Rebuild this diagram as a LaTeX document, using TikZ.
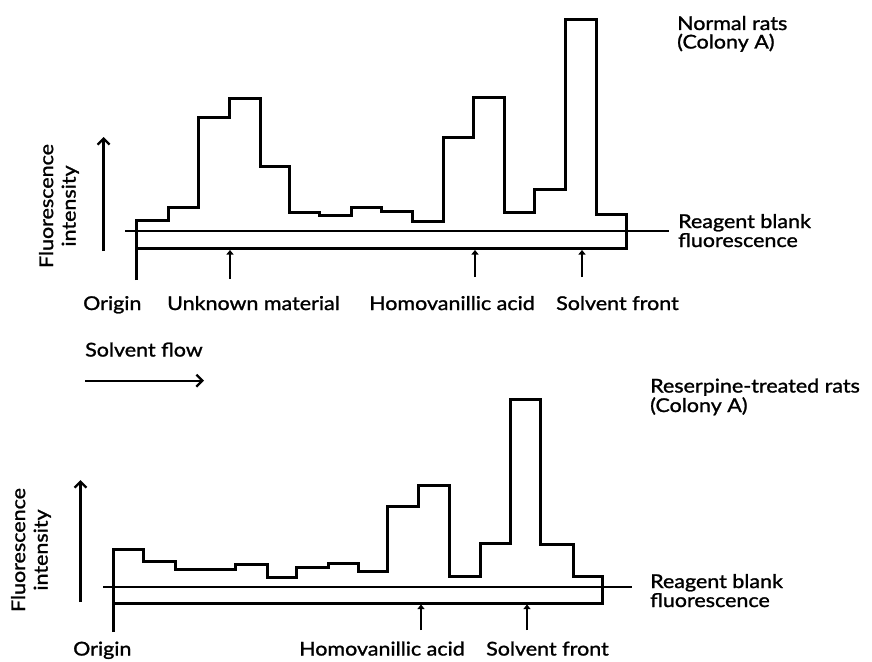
\documentclass[tikz,border=0pt]{standalone}
\usepackage{fontspec}
\setmainfont{Lato}[FakeStretch=1.13,UprightFeatures={FakeBold=1.3}]
\usetikzlibrary{arrows.meta}
\begin{document}
\begin{tikzpicture}[x=1pt,y=-1pt,
  profile/.style={line width=3pt, line join=miter},
  blank/.style={line width=2.4pt},
  tickmark/.style={line width=2.2pt, -{Triangle[length=4.5pt,width=7pt]}},
  axisarrow/.style={line width=2.3pt, -{Straight Barb[length=6pt,width=12pt,line width=2.3pt]}},
  lbl/.style={font=\fontsize{19}{22.5}\selectfont, inner sep=0pt, anchor=base west},
  ylbl/.style={font=\fontsize{19}{22.5}\selectfont, inner sep=0pt, rotate=90, align=center},
]
\useasboundingbox (0,0) rectangle (872,661);

% ---------- top panel ----------
\draw[profile] (136,280) -- (136,220) -| (168,207) -| (198,117) -| (229,98)
  -| (260,166) -| (289,212) -| (319,215) -| (351,207) -| (381,211) -| (412,221)
  -| (443,137) -| (473,97) -| (504,212) -| (534,189) -| (565,20) -| (596,214)
  -| (626,248.5) -- (136,248.5);
\coordinate (tb1) at (125,231);
\coordinate (tb2) at (669,231);
\draw[blank] (tb1) -- (tb2);

\coordinate (tu0) at (230,279);   \coordinate (tu1) at (230,250);
\coordinate (th0) at (475,277);   \coordinate (th1) at (475,250);
\coordinate (ts0) at (582,277);   \coordinate (ts1) at (582,250);
\draw[tickmark] (tu0) -- (tu1);
\draw[tickmark] (th0) -- (th1);
\draw[tickmark] (ts0) -- (ts1);

\coordinate (ty0) at (103.6,251);
\coordinate (ty1) at (103.6,137);
\draw[axisarrow] (ty0) -- (ty1);
\node[ylbl] (tylab) at (59,206) {Fluorescence\\intensity};

\node[lbl] (torig) at (83,310) {Origin};
\node[lbl] (tunk) at (167,310) {Unknown material};
\node[lbl] (thva) at (369,310) {Homovanillic acid};
\node[lbl] (tsf) at (556,310) {Solvent front};

\node[lbl] (tt1) at (677,30) {Normal rats};
\node[lbl] (tt2) at (677,48.5) {(Colony A)};
\node[lbl] (trb1) at (678,228) {Reagent blank};
\node[lbl] (trb2) at (678,247) {fluorescence};

% ---------- solvent flow ----------
\node[lbl] (sflow) at (85,356.5) {Solvent flow};
\coordinate (sf0) at (85,380.7);
\coordinate (sf1) at (204,380.7);
\draw[axisarrow] (sf0) -- (sf1);

% ---------- bottom panel ----------
\draw[profile] (113.5,632) -- (113.5,549) -| (143.5,561) -| (175,569) -| (235,564.5)
  -| (267,577) -| (296,567) -| (328,563) -| (358,571) -| (387,506) -| (418.5,485.5)
  -| (449.5,576) -| (480,543) -| (510,399) -| (540.5,544) -| (573,576)
  -| (602,603) -- (113.5,603);
\coordinate (bb1) at (103,587);
\coordinate (bb2) at (632,587);
\draw[blank] (bb1) -- (bb2);

\coordinate (bh0) at (421,630);   \coordinate (bh1) at (421,604.5);
\coordinate (bs0) at (527,630);   \coordinate (bs1) at (527,604.5);
\draw[tickmark] (bh0) -- (bh1);
\draw[tickmark] (bs0) -- (bs1);

\coordinate (by0) at (80.5,602);
\coordinate (by1) at (80.5,480);
\draw[axisarrow] (by0) -- (by1);
\node[ylbl] (bylab) at (31,550) {Fluorescence\\intensity};

\node[lbl] (borig) at (73,655.5) {Origin};
\node[lbl] (bhva) at (299,655.5) {Homovanillic acid};
\node[lbl] (bsf) at (486,655.5) {Solvent front};

\node[lbl] (bt1) at (650,392.5) {Reserpine-treated rats};
\node[lbl] (bt2) at (650,412) {(Colony A)};
\node[lbl] (brb1) at (650,588) {Reagent blank};
\node[lbl] (brb2) at (650,607) {fluorescence};
\end{tikzpicture}
\end{document}
